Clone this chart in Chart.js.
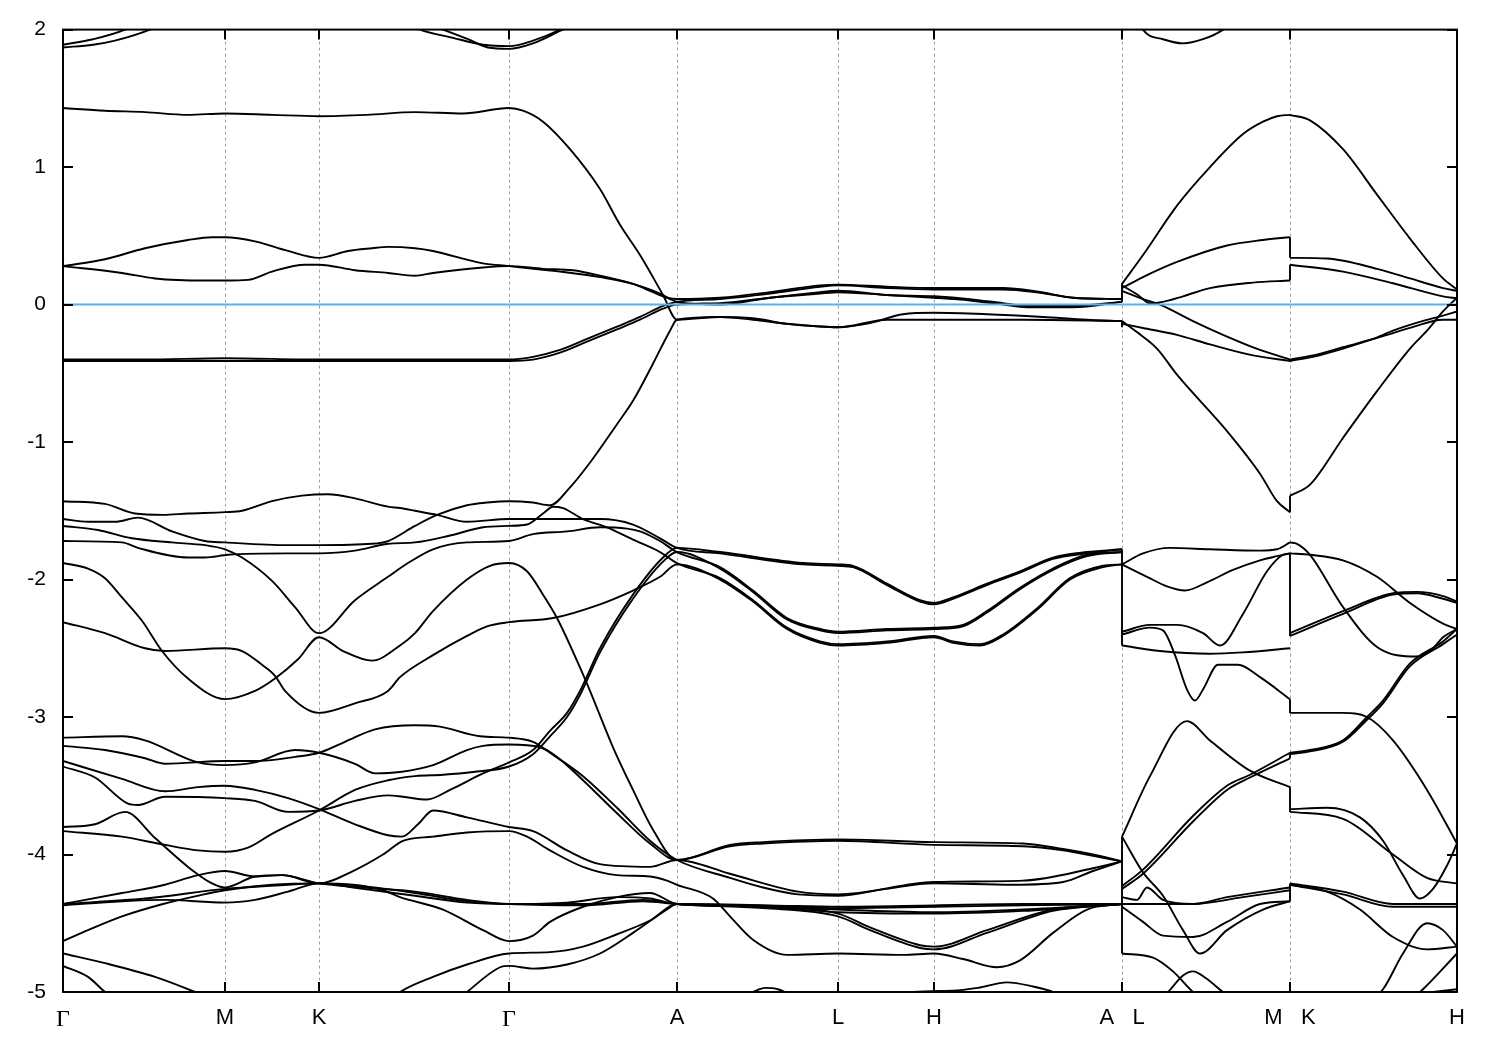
<!DOCTYPE html>
<html>
<head>
<meta charset="utf-8">
<script src="https://cdn.jsdelivr.net/npm/chart.js@4.4.1/dist/chart.umd.min.js"></script>
<style>
  body { margin: 0; background: #fff; }
</style>
</head>
<body>
<canvas id="bands" width="1500" height="1050"></canvas>
<script>
'use strict'
// k-path: distance along the path, high-symmetry points and their labels
const kTicks = [0, 162, 256, 446, 614, 775, 871, 1059, 1227, 1394];
const kNames = ['Γ', 'M', 'K', 'Γ', 'A', 'L', 'H', 'A   L', 'M   K', 'H'];
const eTicks = [2, 1, 0, -1, -2, -3, -4, -5];
const fermi = [[0, 0], [1394, 0]];

// bands on Γ-M-K-Γ-A-L-H-A, [k, E] in eV
const bandU1 = [[0,1.89],[30,1.93],[62,2.0],[100,2.15],[162,2.3],[256,2.3],[330,2.1],[357,2.0],[390,1.94],[420,1.89],[446,1.88],[470,1.92],[497,2.0],[530,2.15],[614,2.4]];
const bandU2 = [[0,1.87],[30,1.89],[52,1.92],[87,2.0],[130,2.15],[162,2.2],[256,2.2],[350,2.08],[380,2.0],[405,1.93],[425,1.87],[446,1.86],[470,1.9],[497,1.99],[530,2.1],[614,2.4]];
const bandF = [[0,1.43],[42,1.41],[82,1.40],[125,1.38],[162,1.39],[209,1.38],[256,1.37],[304,1.38],[352,1.40],[400,1.39],[446,1.43],[460,1.41],[480,1.33],[507,1.13],[537,0.84],[557,0.58],[577,0.36],[600,0.07],[614,-0.11],[657,-0.09],[690,-0.10],[724,-0.14],[757,-0.16],[775,-0.165],[807,-0.135],[840,-0.07],[871,-0.06],[924,-0.07],[980,-0.09],[1024,-0.11],[1059,-0.12]];
const bandP1 = [[0,0.28],[42,0.33],[82,0.41],[125,0.47],[149,0.49],[162,0.49],[192,0.46],[225,0.39],[256,0.34],[285,0.39],[309,0.41],[325,0.42],[352,0.41],[370,0.39],[420,0.30],[446,0.28],[497,0.24],[537,0.20],[570,0.15],[590,0.09],[604,0.05],[614,0.04],[657,0.05],[707,0.09],[757,0.14],[775,0.145],[824,0.13],[871,0.12],[940,0.12],[974,0.095],[1010,0.05],[1059,0.04]];
const bandP2 = [[0,0.28],[59,0.23],[92,0.19],[142,0.175],[162,0.175],[185,0.18],[209,0.24],[242,0.29],[256,0.29],[292,0.25],[325,0.23],[352,0.21],[370,0.23],[420,0.27],[446,0.28],[480,0.26],[510,0.25],[537,0.21],[570,0.15],[597,0.08],[607,0.04],[614,0.02],[657,0.0],[707,0.05],[757,0.09],[775,0.10],[824,0.07],[871,0.06],[907,0.04],[940,0.01],[964,-0.01],[1010,-0.01],[1059,0.02]];
const bandN1 = [[0,-0.40],[81,-0.40],[162,-0.39],[256,-0.40],[351,-0.40],[446,-0.40],[470,-0.38],[497,-0.33],[524,-0.25],[554,-0.16],[577,-0.09],[600,-0.01],[614,0.02],[657,0.04],[707,0.08],[757,0.13],[775,0.14],[824,0.12],[871,0.11],[940,0.11],[974,0.09],[1010,0.05],[1059,0.04]];
const bandN2 = [[0,-0.41],[81,-0.41],[162,-0.41],[256,-0.41],[351,-0.41],[446,-0.41],[470,-0.40],[497,-0.35],[524,-0.27],[554,-0.18],[577,-0.11],[600,-0.03],[614,0.0],[657,0.01],[707,0.05],[757,0.08],[775,0.09],[824,0.07],[871,0.05],[907,0.03],[940,0.0],[964,-0.02],[1010,-0.02],[1059,0.02]];
const bandA1 = [[0,-1.43],[42,-1.45],[72,-1.52],[100,-1.53],[125,-1.52],[162,-1.51],[179,-1.50],[209,-1.43],[239,-1.39],[265,-1.38],[292,-1.41],[325,-1.47],[337,-1.48],[352,-1.50],[374,-1.53],[404,-1.58],[446,-1.56],[537,-1.56],[570,-1.60],[597,-1.70],[614,-1.77],[657,-1.81],[740,-1.89],[775,-1.90],[790,-1.91],[824,-2.04],[857,-2.16],[871,-2.18],[890,-2.14],[924,-2.04],[957,-1.95],[990,-1.85],[1024,-1.81],[1059,-1.78]];
const bandB1 = [[0,-1.56],[25,-1.58],[52,-1.58],[75,-1.55],[109,-1.65],[142,-1.72],[162,-1.73],[225,-1.75],[256,-1.75],[309,-1.74],[325,-1.72],[352,-1.61],[374,-1.53],[404,-1.46],[424,-1.44],[446,-1.43],[470,-1.44],[487,-1.46],[507,-1.33],[530,-1.12],[554,-0.87],[570,-0.70],[590,-0.43],[607,-0.19],[614,-0.11],[657,-0.09],[690,-0.11],[724,-0.14],[757,-0.16],[775,-0.165],[824,-0.11],[871,-0.11],[960,-0.11],[1059,-0.12]];
const bandC = [[0,-1.61],[35,-1.64],[69,-1.70],[109,-1.73],[142,-1.75],[162,-1.78],[179,-1.84],[209,-2.01],[232,-2.20],[256,-2.39],[292,-2.15],[325,-1.98],[345,-1.88],[370,-1.78],[404,-1.73],[446,-1.72],[470,-1.67],[504,-1.65],[537,-1.62],[564,-1.63],[577,-1.65],[597,-1.72],[614,-1.80],[657,-1.91],[690,-2.08],[724,-2.28],[757,-2.36],[775,-2.38],[824,-2.36],[871,-2.35],[900,-2.33],[924,-2.23],[957,-2.06],[990,-1.92],[1024,-1.82],[1059,-1.80]];
const bandD = [[0,-1.72],[59,-1.73],[75,-1.77],[125,-1.84],[142,-1.84],[165,-1.82],[225,-1.81],[256,-1.81],[292,-1.79],[325,-1.74],[352,-1.73],[387,-1.68],[420,-1.62],[446,-1.61],[464,-1.60],[480,-1.52],[490,-1.47],[500,-1.48],[520,-1.56],[544,-1.62],[570,-1.71],[597,-1.80],[614,-1.88],[657,-1.99],[690,-2.15],[724,-2.35],[757,-2.45],[775,-2.47],[824,-2.45],[871,-2.41],[890,-2.45],[917,-2.47],[940,-2.40],[974,-2.21],[1007,-1.99],[1040,-1.90],[1059,-1.89]];
const bandE = [[0,-1.88],[25,-1.92],[42,-1.99],[59,-2.13],[79,-2.30],[99,-2.52],[125,-2.72],[162,-2.87],[192,-2.81],[212,-2.72],[235,-2.58],[256,-2.42],[280,-2.52],[309,-2.59],[337,-2.48],[352,-2.39],[370,-2.23],[404,-2.00],[427,-1.90],[446,-1.88],[464,-1.94],[480,-2.11],[494,-2.28],[520,-2.69],[527,-2.81],[550,-3.22],[570,-3.53],[590,-3.82],[614,-4.04],[667,-3.93],[700,-3.91],[775,-3.89],[871,-3.91],[960,-3.92],[1000,-3.96],[1030,-4.00],[1059,-4.05]];
const bandG = [[0,-2.31],[42,-2.39],[82,-2.50],[102,-2.52],[162,-2.50],[179,-2.52],[199,-2.62],[212,-2.70],[222,-2.81],[256,-2.97],[292,-2.90],[325,-2.81],[337,-2.71],[370,-2.55],[404,-2.41],[424,-2.34],[446,-2.31],[490,-2.28],[537,-2.18],[570,-2.08],[597,-1.98],[614,-1.89],[657,-2.00],[690,-2.16],[724,-2.36],[757,-2.46],[775,-2.48],[824,-2.46],[871,-2.42],[890,-2.46],[917,-2.48],[940,-2.41],[974,-2.22],[1007,-2.00],[1040,-1.91],[1059,-1.89]];
const bandT1 = [[0,-3.36],[32,-3.44],[65,-3.63],[75,-3.64],[102,-3.58],[162,-3.59],[192,-3.61],[225,-3.69],[256,-3.68],[292,-3.61],[325,-3.57],[340,-3.58],[364,-3.60],[387,-3.53],[420,-3.41],[446,-3.33],[470,-3.24],[487,-3.10],[504,-2.97],[517,-2.81],[537,-2.50],[570,-2.11],[600,-1.84],[614,-1.77],[657,-1.80],[740,-1.88],[775,-1.89],[790,-1.90],[824,-2.03],[857,-2.15],[871,-2.17],[890,-2.13],[924,-2.03],[957,-1.94],[990,-1.84],[1024,-1.80],[1059,-1.78]];
const bandT2 = [[0,-3.83],[59,-3.87],[102,-3.93],[135,-3.97],[162,-3.98],[185,-3.95],[209,-3.85],[256,-3.68],[292,-3.53],[325,-3.46],[352,-3.43],[380,-3.42],[410,-3.40],[446,-3.36],[470,-3.27],[487,-3.14],[504,-3.00],[517,-2.84],[537,-2.53],[570,-2.14],[600,-1.87],[614,-1.80],[657,-1.92],[690,-2.09],[724,-2.29],[757,-2.37],[775,-2.39],[824,-2.37],[871,-2.36],[900,-2.34],[924,-2.24],[957,-2.07],[990,-1.93],[1024,-1.83],[1059,-1.80]];
const bandGA = [[0,-3.15],[59,-3.14],[82,-3.17],[135,-3.33],[162,-3.35],[192,-3.33],[232,-3.24],[256,-3.26],[292,-3.34],[312,-3.41],[337,-3.40],[370,-3.35],[404,-3.24],[420,-3.21],[446,-3.20],[477,-3.22],[494,-3.29],[520,-3.46],[554,-3.70],[587,-3.92],[614,-4.04],[667,-3.94],[700,-3.92],[775,-3.90],[871,-3.93],[960,-3.94],[1000,-3.97],[1030,-4.01],[1059,-4.05]];
const bandGB = [[0,-3.21],[42,-3.24],[82,-3.30],[102,-3.34],[162,-3.32],[192,-3.32],[232,-3.29],[256,-3.26],[282,-3.18],[312,-3.09],[352,-3.06],[377,-3.07],[417,-3.14],[446,-3.15],[470,-3.18],[487,-3.26],[520,-3.43],[554,-3.66],[587,-3.90],[614,-4.04],[667,-4.17],[700,-4.24],[735,-4.29],[775,-4.30],[823,-4.25],[871,-4.21],[950,-4.22],[1000,-4.20],[1030,-4.12],[1059,-4.05]];
const bandG3 = [[0,-3.32],[59,-3.45],[102,-3.54],[135,-3.51],[162,-3.50],[192,-3.53],[225,-3.59],[256,-3.67],[292,-3.78],[325,-3.86],[339,-3.87],[355,-3.78],[370,-3.68],[404,-3.73],[446,-3.80],[470,-3.83],[504,-3.97],[537,-4.07],[587,-4.09],[614,-4.04],[667,-4.14],[735,-4.27],[775,-4.29],[871,-4.20],[960,-4.19],[1030,-4.10],[1059,-4.05]];
const bandG5 = [[0,-3.80],[32,-3.78],[62,-3.69],[92,-3.88],[125,-4.09],[149,-4.21],[162,-4.24],[192,-4.16],[219,-4.15],[256,-4.21],[290,-4.12],[320,-4.00],[340,-3.90],[370,-3.87],[404,-3.84],[446,-3.83],[464,-3.87],[487,-3.97],[520,-4.09],[554,-4.15],[587,-4.16],[604,-4.19],[614,-4.22],[650,-4.32],[667,-4.45],[690,-4.62],[724,-4.73],[775,-4.72],[840,-4.73],[871,-4.72],[900,-4.76],[934,-4.82],[957,-4.77],[990,-4.57],[1024,-4.40],[1059,-4.36]];
const bandH1 = [[0,-4.36],[59,-4.28],[102,-4.22],[135,-4.15],[162,-4.12],[192,-4.16],[219,-4.15],[256,-4.21],[300,-4.24],[352,-4.27],[404,-4.33],[446,-4.36],[504,-4.35],[554,-4.31],[587,-4.32],[614,-4.36],[700,-4.37],[775,-4.38],[871,-4.37],[960,-4.36],[1059,-4.36]];
const bandH2 = [[0,-4.36],[82,-4.32],[162,-4.25],[225,-4.22],[256,-4.21],[300,-4.25],[352,-4.30],[404,-4.35],[446,-4.36],[520,-4.36],[580,-4.33],[614,-4.36],[700,-4.38],[775,-4.40],[871,-4.42],[960,-4.40],[1059,-4.36]];
const bandH3 = [[0,-4.37],[59,-4.34],[102,-4.33],[162,-4.35],[192,-4.33],[225,-4.27],[256,-4.21],[290,-4.22],[320,-4.26],[337,-4.31],[380,-4.40],[420,-4.55],[446,-4.63],[470,-4.59],[487,-4.49],[520,-4.38],[554,-4.31],[587,-4.28],[614,-4.36],[700,-4.38],[775,-4.43],[807,-4.53],[857,-4.66],[871,-4.67],[924,-4.55],[990,-4.40],[1059,-4.36]];
const bandH4 = [[0,-4.63],[25,-4.55],[59,-4.45],[100,-4.36],[135,-4.30],[162,-4.26],[209,-4.22],[256,-4.21],[300,-4.23],[352,-4.28],[404,-4.34],[446,-4.36],[520,-4.37],[580,-4.34],[614,-4.36],[700,-4.39],[775,-4.45],[807,-4.55],[857,-4.68],[871,-4.69],[924,-4.57],[990,-4.41],[1059,-4.36]];
const bandH5 = [[0,-4.72],[42,-4.79],[92,-4.89],[132,-5.0],[170,-5.12],[250,-5.2],[320,-5.1],[337,-5.0],[370,-4.89],[404,-4.80],[446,-4.72],[487,-4.71],[520,-4.67],[554,-4.58],[587,-4.48],[614,-4.36],[700,-4.37],[775,-4.39],[871,-4.38],[960,-4.37],[1059,-4.36]];
const bandH6 = [[0,-4.81],[25,-4.89],[42,-5.0],[70,-5.15],[250,-5.3],[380,-5.15],[404,-5.0],[437,-4.82],[446,-4.81],[470,-4.83],[504,-4.80],[537,-4.72],[570,-4.57],[604,-4.40],[614,-4.36],[700,-4.38],[775,-4.42],[871,-4.43],[960,-4.41],[1059,-4.36]];
const bandLow = [[614,-5.3],[660,-5.1],[690,-5.0],[702,-4.97],[715,-4.98],[735,-5.05],[775,-5.15],[820,-5.1],[850,-5.0],[890,-4.99],[915,-4.97],[944,-4.93],[970,-4.96],[990,-5.0],[1020,-5.1],[1059,-5.2]];

// bands on L-M
const lmQ1 = [[1059,0.15],[1080,0.36],[1114,0.72],[1147,1.0],[1180,1.24],[1200,1.33],[1214,1.37],[1227,1.38]];
const lmQ2 = [[1059,0.12],[1080,0.20],[1114,0.31],[1164,0.43],[1200,0.47],[1227,0.49]];
const lmQ3 = [[1059,0.14],[1075,0.07],[1087,0.01],[1100,0.02],[1120,0.06],[1147,0.12],[1190,0.16],[1227,0.175]];
const lmR1 = [[1059,0.10],[1080,0.04],[1097,0.0],[1130,-0.12],[1160,-0.22],[1197,-0.33],[1227,-0.40]];
const lmR2 = [[1059,-0.14],[1080,-0.17],[1114,-0.22],[1147,-0.29],[1190,-0.37],[1227,-0.41]];
const lmV = [[1059,-0.12],[1074,-0.20],[1094,-0.32],[1114,-0.51],[1164,-0.92],[1197,-1.23],[1214,-1.43],[1227,-1.51]];
const lmTop = [[1059,2.4],[1080,2.0],[1100,1.93],[1120,1.90],[1140,1.93],[1160,2.0],[1190,2.2]];
const lmW1 = [[1059,-1.89],[1080,-1.81],[1107,-1.77],[1147,-1.78],[1197,-1.79],[1214,-1.78],[1227,-1.73]];
const lmW2 = [[1059,-1.89],[1084,-1.98],[1104,-2.05],[1122,-2.08],[1144,-2.02],[1170,-1.93],[1197,-1.86],[1214,-1.83],[1227,-1.81]];
const lmW3 = [[1059,-2.38],[1087,-2.33],[1114,-2.33],[1140,-2.39],[1157,-2.48],[1180,-2.25],[1204,-1.94],[1220,-1.82],[1227,-1.81]];
const lmW4 = [[1059,-2.40],[1087,-2.35],[1100,-2.37],[1112,-2.55],[1124,-2.80],[1132,-2.88],[1140,-2.80],[1155,-2.62],[1175,-2.62],[1197,-2.71],[1227,-2.87]];
const lmW5 = [[1059,-2.48],[1097,-2.52],[1147,-2.54],[1180,-2.53],[1227,-2.50]];
const lmLam = [[1059,-3.87],[1087,-3.43],[1124,-3.03],[1147,-3.17],[1187,-3.39],[1227,-3.51]];
const lmX1 = [[1059,-4.23],[1080,-4.11],[1130,-3.72],[1164,-3.50],[1187,-3.42],[1227,-3.26]];
const lmX2 = [[1059,-4.25],[1080,-4.14],[1130,-3.76],[1164,-3.53],[1187,-3.44],[1227,-3.30]];
const lmY1 = [[1059,-3.87],[1080,-4.13],[1100,-4.30],[1120,-4.55],[1137,-4.72],[1164,-4.55],[1200,-4.40],[1227,-4.34]];
const lmY2 = [[1059,-4.31],[1074,-4.33],[1084,-4.24],[1100,-4.33],[1130,-4.36],[1164,-4.31],[1227,-4.24]];
const lmY3 = [[1059,-4.36],[1130,-4.36],[1180,-4.31],[1227,-4.26]];
const lmY4 = [[1059,-4.38],[1080,-4.49],[1100,-4.59],[1130,-4.60],[1164,-4.49],[1197,-4.36],[1227,-4.34]];
const lmY5 = [[1059,-4.72],[1090,-4.75],[1110,-4.85],[1130,-5.0],[1150,-5.1]];
const lmY6 = [[1090,-5.1],[1105,-5.0],[1120,-4.88],[1130,-4.85],[1143,-4.90],[1160,-5.0],[1180,-5.1]];

// bands on K-H
const khQ1 = [[1227,1.38],[1247,1.34],[1280,1.13],[1314,0.80],[1347,0.48],[1380,0.19],[1394,0.11]];
const khQ2 = [[1227,0.34],[1264,0.335],[1314,0.26],[1347,0.19],[1380,0.12],[1394,0.10]];
const khQ3 = [[1227,0.29],[1280,0.24],[1330,0.155],[1380,0.06],[1394,0.045]];
const khR1 = [[1227,-0.41],[1250,-0.38],[1280,-0.32],[1310,-0.25],[1330,-0.19],[1355,-0.13],[1380,-0.08],[1394,-0.05]];
const khR2 = [[1227,-0.40],[1250,-0.37],[1280,-0.31],[1320,-0.23],[1347,-0.17],[1380,-0.11],[1394,-0.11]];
const khV = [[1227,-1.39],[1247,-1.31],[1280,-0.97],[1314,-0.63],[1347,-0.32],[1364,-0.19],[1380,-0.05],[1394,0.05]];
const khZ1 = [[1227,-1.73],[1234,-1.74],[1247,-1.82],[1280,-2.20],[1314,-2.49],[1354,-2.56],[1370,-2.50],[1380,-2.42],[1394,-2.36]];
const khZ2 = [[1227,-1.81],[1247,-1.82],[1280,-1.86],[1314,-1.98],[1347,-2.17],[1380,-2.32],[1394,-2.36]];
const khZ3 = [[1227,-2.39],[1280,-2.23],[1330,-2.10],[1354,-2.09],[1380,-2.12],[1394,-2.16]];
const khZ3b = [[1227,-2.41],[1280,-2.25],[1330,-2.11],[1354,-2.10],[1380,-2.14],[1394,-2.17]];
const khZ4 = [[1227,-2.97],[1280,-2.97],[1304,-3.0],[1330,-3.17],[1364,-3.53],[1394,-3.92]];
const khZ5 = [[1227,-3.26],[1247,-3.24],[1280,-3.17],[1304,-3.0],[1320,-2.88],[1347,-2.61],[1380,-2.45],[1394,-2.36]];
const khZ5b = [[1227,-3.27],[1247,-3.25],[1280,-3.18],[1304,-3.02],[1320,-2.90],[1347,-2.63],[1380,-2.47],[1394,-2.40]];
const khZ6 = [[1227,-3.67],[1264,-3.66],[1297,-3.73],[1320,-3.90],[1340,-4.15],[1357,-4.32],[1370,-4.25],[1384,-4.08],[1394,-3.92]];
const khZ7 = [[1227,-3.69],[1280,-3.74],[1330,-4.00],[1364,-4.17],[1394,-4.21]];
const khZ8 = [[1227,-4.21],[1280,-4.27],[1330,-4.36],[1394,-4.36]];
const khZ8b = [[1227,-4.22],[1280,-4.29],[1330,-4.38],[1394,-4.38]];
const khZ9 = [[1227,-4.22],[1264,-4.27],[1297,-4.40],[1330,-4.60],[1364,-4.69],[1394,-4.67]];
const khZ10 = [[1300,-5.1],[1320,-4.98],[1340,-4.72],[1364,-4.50],[1380,-4.55],[1394,-4.67]];
const khZ11 = [[1340,-5.1],[1360,-4.98],[1394,-4.72]];
const khZ12 = [[1370,-5.0],[1394,-4.98]];

// band ends joined across the path breaks: [k, E from, E to]
const jumps = [[1059,0.02,0.155],[1059,-0.12,-0.165],[1059,-1.78,-2.48],[1059,-3.87,-4.72],
  [1227,0.34,0.49],[1227,0.175,0.29],[1227,-1.51,-1.39],[1227,-1.81,-2.41],[1227,-2.87,-2.97],
  [1227,-3.26,-3.30],[1227,-3.51,-3.69],[1227,-4.21,-4.34]];

const bands = [bandU1, bandU2, bandF, bandP1, bandP2, bandN1, bandN2, bandA1, bandB1, bandC, bandD,
  bandE, bandG, bandT1, bandT2, bandGA, bandGB, bandG3, bandG5, bandH1, bandH2, bandH3, bandH4,
  bandH5, bandH6, bandLow,
  lmQ1, lmQ2, lmQ3, lmR1, lmR2, lmV, lmTop, lmW1, lmW2, lmW3, lmW4, lmW5, lmLam, lmX1, lmX2,
  lmY1, lmY2, lmY3, lmY4, lmY5, lmY6,
  khQ1, khQ2, khQ3, khR1, khR2, khV, khZ1, khZ2, khZ3, khZ3b, khZ4, khZ5, khZ5b, khZ6, khZ7,
  khZ8, khZ8b, khZ9, khZ10, khZ11, khZ12];

let datasets = [];
datasets.push({
  data: fermi.map(p => ({x: p[0], y: p[1]})),
  borderColor: 'rgb(86,180,233)', borderWidth: 2, pointRadius: 0, tension: 0, clip: 0
});
bands.forEach(function (b) {
  datasets.push({
    data: b.map(p => ({x: p[0], y: p[1]})),
    borderColor: '#000', borderWidth: 1.9, pointRadius: 0,
    cubicInterpolationMode: 'monotone', clip: 0
  });
});
jumps.forEach(function (j) {
  datasets.push({
    data: [{x: j[0], y: j[1]}, {x: j[0], y: j[2]}],
    borderColor: '#000', borderWidth: 1.9, pointRadius: 0, tension: 0, clip: 0
  });
});

// gnuplot-like frame: dashed verticals, border and inward ticks
let framePlugin = {
  id: 'frame',
  beforeDatasetsDraw: function (chart) {
    let ctx = chart.ctx;
    let a = chart.chartArea;
    let xs = chart.scales.x;
    ctx.save();
    ctx.strokeStyle = '#a0a0a0';
    ctx.lineWidth = 1;
    ctx.setLineDash([3, 3]);
    kTicks.slice(1, -1).forEach(function (k) {
      let px = Math.round(xs.getPixelForValue(k)) + 0.5;
      ctx.beginPath();
      ctx.moveTo(px, a.top);
      ctx.lineTo(px, a.bottom);
      ctx.stroke();
    });
    ctx.restore();
  },
  afterDraw: function (chart) {
    let ctx = chart.ctx;
    let a = chart.chartArea;
    let xs = chart.scales.x;
    let ys = chart.scales.y;
    let len = 10;
    ctx.save();
    ctx.strokeStyle = '#000';
    ctx.lineWidth = 2;
    ctx.beginPath();
    kTicks.slice(1, -1).forEach(function (k) {
      let px = Math.round(xs.getPixelForValue(k));
      ctx.moveTo(px, a.bottom); ctx.lineTo(px, a.bottom - len);
      ctx.moveTo(px, a.top); ctx.lineTo(px, a.top + len);
    });
    eTicks.forEach(function (e) {
      let py = Math.round(ys.getPixelForValue(e));
      ctx.moveTo(a.left, py); ctx.lineTo(a.left + len, py);
      ctx.moveTo(a.right, py); ctx.lineTo(a.right - len, py);
    });
    ctx.stroke();
    ctx.strokeRect(a.left, a.top, a.right - a.left, a.bottom - a.top);
    ctx.restore();
  }
};

new Chart(document.getElementById('bands'), {
  type: 'line',
  data: { datasets: datasets },
  options: {
    responsive: false,
    devicePixelRatio: 1,
    animation: false,
    events: [],
    layout: { padding: { left: 0, right: 43, top: 28, bottom: 0 } },
    plugins: { legend: { display: false }, tooltip: { enabled: false } },
    scales: {
      x: {
        type: 'linear', min: 0, max: 1394,
        afterBuildTicks: function (s) { s.ticks = kTicks.map(v => ({value: v})); },
        afterFit: function (s) { s.height = 58; },
        grid: { display: false, drawTicks: false },
        border: { display: false },
        ticks: {
          autoSkip: false, maxRotation: 0, padding: 13, color: '#000',
          callback: function (v, i) { return kNames[i]; },
          font: function (c) {
            return c.index === 0 || c.index === 3
              ? { family: 'Liberation Serif', size: 24 }
              : { family: 'Liberation Sans', size: 22 };
          }
        }
      },
      y: {
        type: 'linear', min: -5, max: 2,
        afterBuildTicks: function (s) { s.ticks = eTicks.map(v => ({value: v})); },
        afterFit: function (s) { s.width = 63; },
        grid: { display: false, drawTicks: false },
        border: { display: false },
        ticks: {
          padding: 17, color: '#000',
          callback: function (v) { return String(v); },
          font: { family: 'Liberation Sans', size: 21 }
        }
      }
    }
  },
  plugins: [framePlugin]
});
</script>
</body>
</html>
